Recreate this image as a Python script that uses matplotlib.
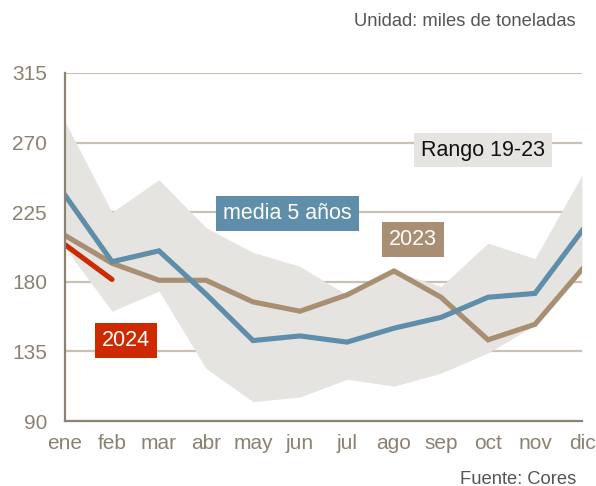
import matplotlib
matplotlib.use("Agg")
import matplotlib.pyplot as plt
import numpy as np

plt.rcParams['font.family'] = ['Liberation Sans', 'DejaVu Sans']

months = ["ene", "feb", "mar", "abr", "may", "jun", "jul", "ago", "sep", "oct", "nov", "dic"]
rango_max = [283.5, 225, 246, 215, 199, 190, 171.5, 187, 177, 205, 195, 249]
rango_min = [202, 161, 174, 124, 102.5, 105.5, 117, 112.5, 121, 134, 152, 187]
media5 = [236, 193, 200, 172, 142, 145, 141, 150, 157, 170, 172.5, 213]
y2023 = [210, 192, 181, 181, 167, 161, 171.5, 187, 170, 142.5, 152.5, 188]
y2024 = [204, 181.5]
yticks = [90, 135, 180, 225, 270, 315]

c_band = "#e6e4e0"
c_blue = "#5e8ea9"
c_tan = "#a88f73"
c_red = "#cc2a00"
c_grid = "#c9c2b3"
c_axis = "#8c8472"
c_tick = "#8b8170"

fig = plt.figure(figsize=(5.96, 4.86), dpi=100)
ax = fig.add_axes([65/596, 1-421/486, (582-65)/596, (421-73)/486])

x = np.arange(len(months))
for yt in yticks[1:]:
    ax.axhline(yt, color=c_grid, lw=1.6, zorder=0.5)
ax.fill_between(x, rango_min, rango_max, color=c_band, lw=0, zorder=1)
ax.plot(x, y2023, color=c_tan, lw=3.7, zorder=3, solid_joinstyle='miter')
ax.plot(x, media5, color=c_blue, lw=3.7, zorder=4, solid_joinstyle='miter')
ax.plot(x[:len(y2024)], y2024, color=c_red, lw=3.7, zorder=5, solid_capstyle='round')

ax.set_xlim(0, 11)
ax.set_ylim(90, 315)
ax.set_xticks(x)
ax.set_xticklabels(months)
ax.set_yticks(yticks)
ax.tick_params(axis='both', length=0, labelsize=15, colors=c_tick)
ax.tick_params(axis='y', pad=13)
ax.tick_params(axis='x', pad=9)
for s in ['top', 'right']:
    ax.spines[s].set_visible(False)
for s in ['left', 'bottom']:
    ax.spines[s].set_color(c_axis)
    ax.spines[s].set_linewidth(1.6)
    ax.spines[s].set_zorder(6)

def label(xc, yc, txt, fc, tc):
    ax.text(xc, yc, txt, ha='center', va='center', fontsize=15.5, color=tc, zorder=7,
            bbox=dict(boxstyle='square,pad=0.32', fc=fc, ec='none'))

label(8.90, 265.2, "Rango 19-23", c_band, "#111111")
label(4.73, 224.1, "media 5 años", c_blue, "white")
label(7.41, 207.6, "2023", c_tan, "white")
label(1.30, 142.0, "2024", c_red, "white")

fig.text(576/596, 1-22/486, "Unidad: miles de toneladas", ha='right', va='center', fontsize=13.2, color="#555555")
fig.text(576/596, 1-479/486, "Fuente: Cores", ha='right', va='center', fontsize=13.2, color="#555555")

fig.savefig("out.png", dpi=100)
